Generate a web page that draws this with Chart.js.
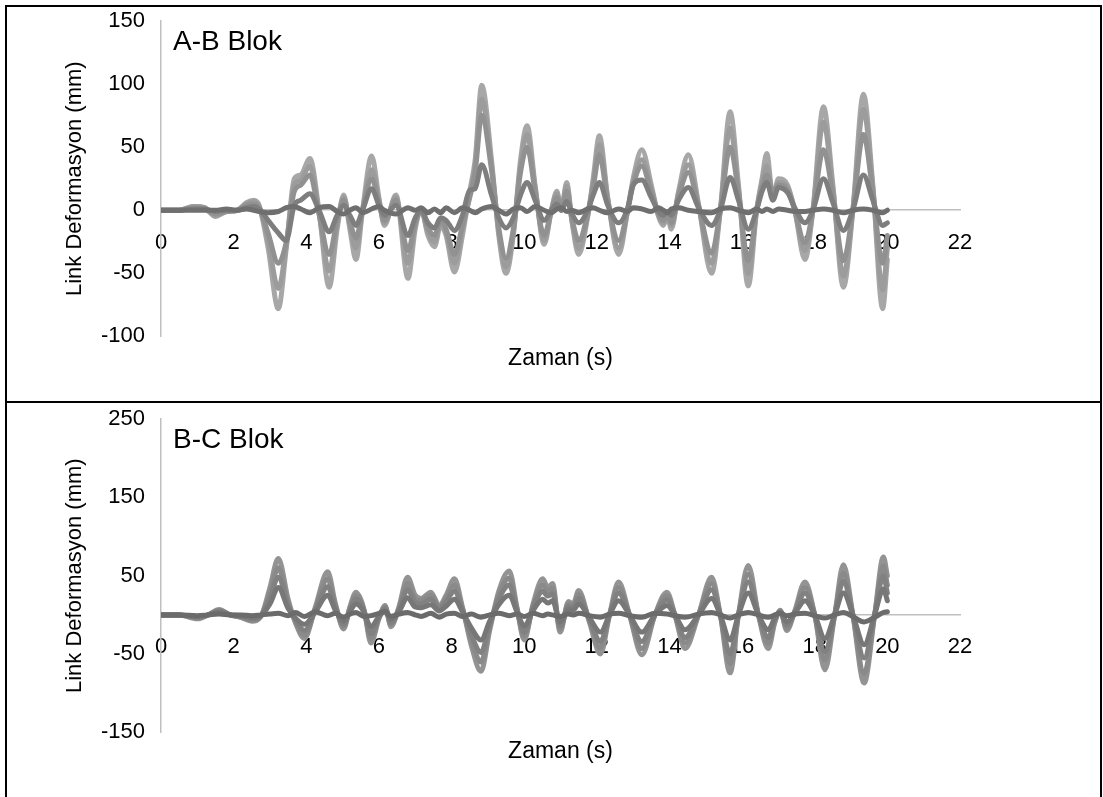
<!DOCTYPE html>
<html>
<head>
<meta charset="utf-8">
<script src="https://cdn.jsdelivr.net/npm/chart.js@4/dist/chart.umd.min.js"></script>
<style>
    html, body {
        margin: 0;
        background: #ffffff;
        overflow: hidden;
    }

    .panel {
        position: absolute;
        left: 5px;
        width: 1097px;
        border: 2px solid #000000;
        box-sizing: border-box;
        background: #ffffff;
    }

    canvas {
        display: block;
    }
</style>
</head>
<body>

<div class="panel" style="top: 5px; height: 398px;">
    <canvas id="abChart" width="1093" height="393"></canvas>
</div>

<div class="panel" style="top: 401px; height: 400px;">
    <canvas id="bcChart" width="1093" height="393"></canvas>
</div>

<script>
// ---- A-B Blok (time in s, deformation in mm) ----

const abTime = [
    0, 0.5, 0.9, 1.2, 1.5, 1.8, 2.1, 2.35, 2.55, 2.7,
    2.95, 3.23, 3.45, 3.67, 3.85, 4.1, 4.35, 4.63, 4.85, 5.03,
    5.2, 5.37, 5.55, 5.8, 6.0, 6.15, 6.47, 6.8, 7.0, 7.16,
    7.35, 7.53, 7.7, 7.85, 8.08, 8.3, 8.5, 8.65, 8.83, 9.1,
    9.3, 9.5, 9.7, 9.9, 10.08, 10.3, 10.55, 10.75, 10.9, 11.02,
    11.17, 11.32, 11.5, 11.75, 11.9, 12.07, 12.3, 12.6, 12.85, 13.0,
    13.24, 13.5, 13.7, 13.83, 13.95, 14.05, 14.25, 14.52, 14.8, 15.16,
    15.4, 15.67, 15.9, 16.17, 16.4, 16.55, 16.68, 16.85, 17.0, 17.25,
    17.45, 17.73, 17.95, 18.24, 18.5, 18.79, 19.05, 19.34, 19.6, 19.87,
    20.0
];

const abSeries1 = [
    0, 0, 3, 2, -5, -1, 0, 6, 8, 4,
    -30, -78, -30, 25, 28, 41, 0, -61, -15, 12,
    -15, -39, 0, 43, 10, -12, 12, -54, -15, 1,
    -20, -29, -12, -20, -49, -20, 15, 40, 99, 40,
    -20, -50, -20, 40, 67, 20, -27, 0, 15, 0,
    22, -10, -35, -5, 25, 59, 10, -35, 0, 25,
    48, 20, -5, -12, -5, -15, 15, 44, 5, -50,
    0, 78, 20, -60, 0, 25, 45, 10, 25, 20,
    0, -39, 0, 82, 20, -61, 0, 92, 20, -78,
    -39
];

const abSeries2 = [
    0, 0, 3, 2, -4, -1, 0, 5, 7, 3,
    -24, -62, -28, 20, 24, 35, -2, -48, -12, 10,
    -12, -30, 0, 32, 8, -10, 10, -42, -12, 0,
    -17, -25, -10, -18, -42, -15, 12, 35, 88, 36,
    -17, -45, -18, 35, 60, 18, -24, 0, 13, 0,
    19, -9, -30, -4, 22, 52, 9, -30, 0, 22,
    40, 17, -4, -10, -4, -12, 13, 36, 4, -42,
    0, 65, 17, -50, 0, 22, 35, 12, 22, 18,
    0, -32, 0, 70, 17, -52, 0, 80, 18, -63,
    -30
];

const abSeries3 = [
    0, 0, 2, 1, -3, -1, 0, 4, 5, 2,
    -18, -42, -25, 15, 20, 28, -3, -35, -8, 8,
    -9, -22, 0, 25, 6, -8, 8, -32, -10, 0,
    -14, -20, -8, -15, -35, -12, 10, 30, 75, 32,
    -14, -38, -15, 30, 50, 15, -20, 0, 10, 0,
    15, -7, -24, -3, 18, 44, 7, -24, 0, 20,
    35, 14, -3, -8, -3, -10, 11, 30, 3, -34,
    0, 50, 14, -40, 0, 18, 28, 14, 20, 16,
    0, -26, 0, 48, 12, -40, 0, 60, 14, -42,
    -20
];

const abSeries4 = [
    0, 0, 1, 1, -1, 0, 0, 2, 3, 1,
    -8, -18, -24, 4, 8, 13, 0, -17, -4, 4,
    -4, -12, 0, 17, 4, -4, 4, -20, -6, 0,
    -10, -14, -6, -8, -16, -4, 16, 17, 36, 12,
    -6, -14, -6, 12, 22, 8, -8, 0, 5, 0,
    7, -3, -10, 0, 12, 22, 4, -10, 2, 20,
    24, 10, -1, -4, -1, -4, 8, 18, 2, -12,
    0, 26, 8, -15, 0, 15, 22, 8, 18, 14,
    2, -10, 0, 25, 6, -16, 0, 28, 8, -12,
    -10
];

const abSeries5 = [
    0, 0, 0, 0, 0, 1, 0, 1, 0, -1,
    -2, -1, 2, 3, 1, -2, 2, 3, -1, -3,
    0, 2, -2, 1, 3, 0, -3, 2, 0, 2,
    -2, 1, -2, 2, -2, 2, 0, -2, 1, 3,
    0, -3, 1, 2, -1, 3, 0, -2, 1, 2,
    -1, 0, -2, 1, 2, 0, -2, 1, -1, 2,
    1, -1, 2, 0, -2, 1, 2, 0, -1, -2,
    1, 2, 0, -2, 1, -1, 1, -1, 1, 0,
    -1, -1, 0, 1, 0, -2, 0, 1, 0, -2,
    0
];

// ---- B-C Blok ----

const bcTime = [
    0, 0.5, 1.0, 1.3, 1.6, 1.9, 2.2, 2.5, 2.75, 3.0,
    3.23, 3.5, 3.7, 3.95, 4.25, 4.59, 4.8, 5.03, 5.2, 5.37,
    5.5, 5.6, 5.78, 6.0, 6.17, 6.33, 6.55, 6.79, 7.0, 7.16,
    7.43, 7.66, 7.85, 8.08, 8.3, 8.55, 8.81, 9.05, 9.3, 9.59,
    9.8, 10.0, 10.25, 10.51, 10.65, 10.78, 10.99, 11.22, 11.35, 11.5,
    11.8, 12.1, 12.35, 12.6, 12.9, 13.24, 13.6, 13.93, 14.15, 14.43,
    14.8, 15.16, 15.4, 15.67, 15.9, 16.17, 16.45, 16.72, 16.9, 17.05,
    17.23, 17.45, 17.73, 18.0, 18.28, 18.55, 18.79, 19.05, 19.36, 19.65,
    19.89, 20.0
];

const bcSeries1 = [
    0, 0, -5, 0, 7, 0, -3, -8, -2, 35,
    72, 20, -10, -30, 10, 55, 15, -18, 10, 29,
    20, 5, -36, -5, 12, -15, 10, 48, 25, 21,
    29, 12, 25, 46, 10, -40, -72, -20, 30, 56,
    10, -32, 15, 46, 35, 40, -22, 17, 14, 31,
    -10, -50, 0, 42, 0, -51, 0, 29, 0, -43,
    0, 48, 0, -74, 0, 63, 0, -43, -10, 6,
    -20, 5, 42, 0, -70, 0, 64, 0, -87, 0,
    74, 50
];

const bcSeries2 = [
    0, 0, -4, 0, 6, 0, -3, -7, -2, 28,
    60, 15, -8, -26, 8, 46, 12, -15, 8, 24,
    18, 4, -30, -4, 10, -12, 8, 40, 20, 18,
    25, 10, 21, 38, 8, -33, -60, -16, 25, 47,
    8, -27, 12, 38, 30, 34, -18, 14, 12, 26,
    -8, -42, 0, 35, 0, -43, 0, 24, 0, -36,
    0, 40, 0, -62, 0, 52, 0, -36, -8, 5,
    -17, 4, 35, 0, -58, 0, 53, 0, -75, 0,
    62, 38
];

const bcSeries3 = [
    0, 0, -3, 0, 5, 0, -2, -5, -1, 22,
    48, 12, -6, -20, 6, 36, 10, -12, 6, 20,
    15, 3, -24, -3, 8, -10, 6, 32, 16, 14,
    20, 8, 17, 30, 6, -26, -48, -12, 20, 38,
    6, -22, 10, 30, 24, 27, -14, 11, 9, 21,
    -6, -34, 0, 28, 0, -34, 0, 19, 0, -29,
    0, 32, 0, -50, 0, 42, 0, -29, -6, 4,
    -13, 3, 28, 0, -47, 0, 43, 0, -55, 0,
    50, 28
];

const bcSeries4 = [
    0, 0, -2, 0, 3, 0, -1, -3, -1, 14,
    35, 8, -4, -12, 4, 25, 6, -8, 4, 14,
    10, 2, -15, -2, 5, -6, 4, 22, 10, 9,
    13, 5, 11, 20, 4, -17, -32, -8, 13, 25,
    4, -14, 6, 20, 15, 18, -9, 7, 6, 14,
    -4, -22, 0, 18, 0, -22, 0, 12, 0, -19,
    0, 21, 0, -32, 0, 28, 0, -19, -4, 3,
    -9, 2, 18, 0, -30, 0, 28, 0, -38, 0,
    33, 18
];

const bcSeries5 = [
    0, 0, -1, 0, 1, 0, 0, -1, 0, 1,
    2, -1, 3, -2, 4, -1, 2, -3, 1, 3,
    0, -2, -1, 2, 4, -2, 1, 3, 0, -2,
    2, -3, 1, 2, -2, 1, -3, 0, 2, -1,
    1, -2, 2, -1, 1, 0, -2, 1, 0, 2,
    -1, -3, 1, 2, -1, -3, 2, 1, -1, -3,
    1, 3, 0, -4, 0, 3, 0, -3, 0, 2,
    -1, 1, 2, -1, -4, 0, 3, -2, -9, -3,
    3, 4
];

// ---- ticks ----

const xTicks = [0, 2, 4, 6, 8, 10, 12, 14, 16, 18, 20, 22];
const abYTicks = [-100, -50, 0, 50, 100, 150];
const bcYTicks = [-150, -50, 50, 150, 250];

const abColors = ["#a7a7a7", "#9c9c9c", "#919191", "#7e7e7e", "#6f6f6f"];
const bcColors = ["#939393", "#8a8a8a", "#818181", "#777777", "#6b6b6b"];

const fontFamily = 'Arial, "Liberation Sans", sans-serif';

Chart.defaults.font.family = fontFamily;
Chart.defaults.color = "#000000";

// draws the "A-B Blok" style label inside the plot area
const blockLabel = {
    id: "blockLabel",
    afterDatasetsDraw(chart, args, opts) {
        const ctx = chart.ctx;
        const area = chart.chartArea;
        ctx.save();
        ctx.font = "28px " + fontFamily;
        ctx.fillStyle = "#000000";
        ctx.textAlign = "left";
        ctx.textBaseline = "alphabetic";
        ctx.fillText(opts.text, area.left + 12, area.top + 29);
        ctx.restore();
    }
};

function makeChart(canvasId, time, seriesList, colors, yTicks, label, pad) {

    // darkest series first so it is painted on top
    const datasets = seriesList.map(function (values, i) {
        return {
            label: "Seri " + (i + 1),
            data: values.map(function (v, k) {
                return { x: time[k], y: v };
            }),
            borderColor: colors[i],
            borderWidth: 5,
            pointRadius: 0,
            fill: false,
            cubicInterpolationMode: "monotone",
            borderCapStyle: "round",
            borderJoinStyle: "round"
        };
    }).reverse();

    return new Chart(document.getElementById(canvasId), {

        type: "line",

        data: { datasets: datasets },

        plugins: [blockLabel],

        options: {

            responsive: false,
            animation: false,
            devicePixelRatio: 1,

            layout: {
                padding: { left: 0, right: 140, top: pad.top, bottom: 0 }
            },

            plugins: {
                legend: { display: false },
                tooltip: { enabled: false },
                blockLabel: { text: label },
                title: {
                    display: true,
                    fullSize: false,
                    text: "Zaman (s)",
                    position: "bottom",
                    font: { size: 23, weight: "normal" },
                    padding: { top: pad.titleTop, bottom: pad.titleBottom }
                }
            },

            scales: {

                x: {
                    type: "linear",
                    position: { y: 0 },
                    min: 0,
                    max: 22,
                    afterBuildTicks: function (scale) {
                        scale.ticks = xTicks.map(function (v) {
                            return { value: v };
                        });
                    },
                    ticks: {
                        autoSkip: false,
                        maxRotation: 0,
                        padding: 19,
                        font: { size: 22 }
                    },
                    grid: { display: false, drawTicks: false },
                    border: { display: true, color: "#bfbfbf", width: 1.5 }
                },

                y: {
                    type: "linear",
                    position: "left",
                    min: yTicks[0],
                    max: yTicks[yTicks.length - 1],
                    afterBuildTicks: function (scale) {
                        scale.ticks = yTicks.map(function (v) {
                            return { value: v };
                        });
                    },
                    afterFit: function (scale) {
                        scale.width = 154;
                        // let the layout padding alone decide the plot top
                        scale.paddingTop = 0;
                        scale.paddingBottom = 0;
                    },
                    ticks: {
                        padding: 16,
                        font: { size: 22 }
                    },
                    title: {
                        display: true,
                        text: "Link Deformasyon (mm)",
                        font: { size: 22 },
                        padding: { top: 55, bottom: 0 }
                    },
                    grid: { display: false, drawTicks: false },
                    border: { display: true, color: "#bfbfbf", width: 1.5 }
                }
            }
        }
    });
}

makeChart(
    "abChart",
    abTime,
    [abSeries1, abSeries2, abSeries3, abSeries4, abSeries5],
    abColors,
    abYTicks,
    "A-B Blok",
    { top: 14, titleTop: 8, titleBottom: 28 }
);

makeChart(
    "bcChart",
    bcTime,
    [bcSeries1, bcSeries2, bcSeries3, bcSeries4, bcSeries5],
    bcColors,
    bcYTicks,
    "B-C Blok",
    { top: 16, titleTop: 5, titleBottom: 31 }
);
</script>
</body>
</html>
